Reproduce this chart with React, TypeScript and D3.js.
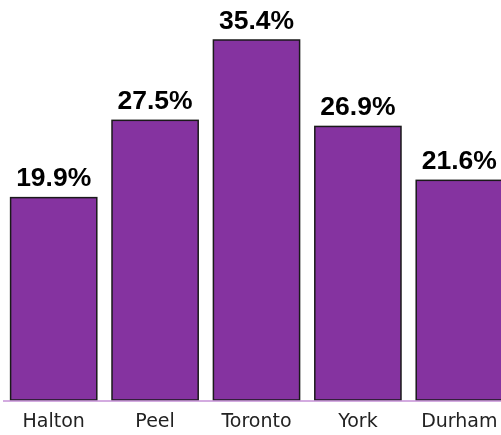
import { useRef, useEffect } from 'react';
import * as d3 from 'd3';

const regions: string[] = ['Halton', 'Peel', 'Toronto', 'York', 'Durham'];
const shares: number[] = [19.9, 27.5, 35.4, 26.9, 21.6];

export default function App() {
  const ref = useRef<SVGSVGElement>(null);

  useEffect(() => {
    document.body.style.margin = '0';
    document.body.style.overflow = 'hidden';
    const svg = d3.select(ref.current);
    svg.selectAll('*').remove();

    const width = 501;
    const height = 435;
    const baseY = 400;

    const x = d3.scaleBand<string>().domain(regions).range([3, 510]).paddingInner(0.15).paddingOuter(0.075);
    const y = d3.scaleLinear().domain([0, 35.4]).range([baseY, 40]);

    const g = svg.append('g');

    // Bars
    g.selectAll('rect.bar')
      .data(regions)
      .enter()
      .append('rect')
      .attr('class', 'bar')
      .attr('x', d => x(d)!)
      .attr('y', (d, i) => y(shares[i]))
      .attr('width', x.bandwidth())
      .attr('height', (d, i) => baseY - y(shares[i]))
      .attr('fill', '#8533A0')
      .attr('stroke', '#1a1a1a')
      .attr('stroke-width', 1.5);

    // Value labels
    g.selectAll('text.val')
      .data(regions)
      .enter()
      .append('text')
      .attr('class', 'val')
      .attr('x', d => x(d)! + x.bandwidth() / 2)
      .attr('y', (d, i) => y(shares[i]) - 11.5)
      .attr('text-anchor', 'middle')
      .attr('font-family', 'Arial, "Liberation Sans", sans-serif')
      .attr('font-weight', 'bold')
      .attr('font-size', 26.5)
      .attr('fill', '#000')
      .text((d, i) => `${shares[i].toFixed(1)}%`);

    // Axis line
    g.append('line')
      .attr('x1', 3)
      .attr('x2', width)
      .attr('y1', baseY + 1)
      .attr('y2', baseY + 1)
      .attr('stroke', '#c58fd6')
      .attr('stroke-width', 1.5);

    // Category labels
    g.selectAll('text.cat')
      .data(regions)
      .enter()
      .append('text')
      .attr('class', 'cat')
      .attr('x', d => x(d)! + x.bandwidth() / 2)
      .attr('y', 426.5)
      .attr('text-anchor', 'middle')
      .attr('font-family', '"DejaVu Sans", Verdana, sans-serif')
      .attr('font-size', 19)
      .attr('fill', '#222')
      .text(d => d);

    svg.attr('width', width).attr('height', height);
  }, []);

  return (
    <div style={{ position: 'fixed', left: 0, top: 0 }}>
      <svg ref={ref} width={501} height={435} style={{ display: 'block' }}></svg>
    </div>
  );
}
